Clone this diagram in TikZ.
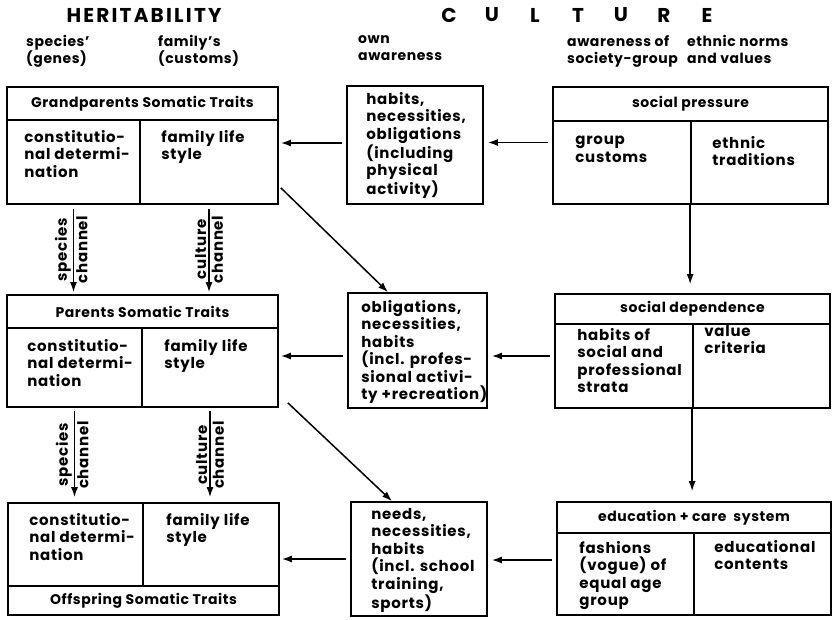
\documentclass[tikz,border=0pt]{standalone}
\usepackage{fontspec}
\setmainfont{Poppins}
\usetikzlibrary{arrows.meta,fit,positioning}

\tikzset{
  cell/.style={draw, line width=1.7pt, inner sep=0pt},
  ttl/.style={inner sep=0pt, font=\fontsize{14}{14}\bfseries\addfontfeature{LetterSpace=4}},
  txt/.style={anchor=north west, align=left, inner sep=0pt, font=\fontsize{15}{17.5}\bfseries\addfontfeature{LetterSpace=5}},
  sub/.style={txt, font=\fontsize{14}{17}\bfseries\addfontfeature{LetterSpace=4}},
  hdr/.style={font=\fontsize{20}{22}\bfseries},
  flow/.style={-{Latex[length=10pt,width=7pt]}, line width=1.5pt},
  chan/.style={rotate=90, inner sep=2pt, font=\fontsize{15}{15}\bfseries\addfontfeature{LetterSpace=5}}
}

\begin{document}
\begin{tikzpicture}[x=1pt,y=-1pt]
  \useasboundingbox (0,0) rectangle (833,619);

  % column heads
  \node[hdr] (herit) at (144,15) {\addfontfeature{LetterSpace=11}HERITABILITY};
  \foreach \l [count=\i] in {C,U,L,T,U,R,E}
    \node[hdr] (cult\i) at (449+43*\i-43,15) {\l};
  \node[sub] (genes) at (26,35) {species'\\(genes)};
  \node[sub] (customs) at (158,35) {family's\\(customs)};
  \node[sub] (own) at (358,35) {own\\awareness};
  \node[sub] (society) at (567,35) {awareness of\\society-group};
  \node[sub] (ethnic) at (687,35) {ethnic norms\\and values};

  % grandparents
  \node[cell,fit={(7,87)(278,120)}] (gpT) {};
  \node[cell,fit={(7,120)(140,204)}] (gpL) {};
  \node[cell,fit={(140,120)(278,204)}] (gpR) {};
  \node[ttl] (gpTt) at (gpT) {Grandparents Somatic Traits};
  \node[txt] (gpLt) at ([shift={(18pt,-11pt)}]gpL.north west) {constitutio-\\nal determi-\\nation};
  \node[txt] (gpRt) at ([shift={(22pt,-11pt)}]gpR.north west) {family life\\style};

  % parents
  \node[cell,fit={(7,295)(278,328)}] (parT) {};
  \node[cell,fit={(7,328)(142,407)}] (parL) {};
  \node[cell,fit={(142,328)(278,407)}] (parR) {};
  \node[ttl] (parTt) at (parT) {Parents Somatic Traits};
  \node[txt] (parLt) at ([shift={(21pt,-12pt)}]parL.north west) {constitutio-\\nal determi-\\nation};
  \node[txt] (parRt) at ([shift={(23pt,-12pt)}]parR.north west) {family life\\style};

  % offspring
  \node[cell,fit={(8,503)(143,586)}] (offL) {};
  \node[cell,fit={(143,503)(279,586)}] (offR) {};
  \node[cell,fit={(8,586)(279,615)}] (offT) {};
  \node[ttl] (offTt) at (offT) {Offspring Somatic Traits};
  \node[txt] (offLt) at ([shift={(22pt,-11pt)}]offL.north west) {constitutio-\\nal determi-\\nation};
  \node[txt] (offRt) at ([shift={(24pt,-11pt)}]offR.north west) {family life\\style};

  % own awareness
  \node[cell,fit={(347,86)(483,204)}] (own1) {};
  \node[txt] (own1t) at ([shift={(20pt,-7pt)}]own1.north west) {habits,\\necessities,\\obligations\\(including\\physical\\activity)};
  \node[cell,fit={(348,293)(487,408)}] (own2) {};
  \node[txt] (own2t) at ([shift={(14pt,-8pt)}]own2.north west) {obligations,\\necessities,\\habits\\(incl. profes-\\sional activi-\\ty +recreation)};
  \node[cell,fit={(351,502)(487,616)}] (own3) {};
  \node[txt] (own3t) at ([shift={(21pt,-7pt)}]own3.north west) {needs,\\necessities,\\habits\\(incl. school\\training,\\sports)};

  % society
  \node[cell,fit={(553,87)(828,121)}] (spT) {};
  \node[cell,fit={(553,121)(691,204)}] (spL) {};
  \node[cell,fit={(691,121)(828,204)}] (spR) {};
  \node[ttl] (spTt) at (spT) {social pressure};
  \node[txt] (spLt) at ([shift={(23pt,-16pt)}]spL.north west) {group\\customs};
  \node[txt] (spRt) at ([shift={(22pt,-16pt)}]spR.north west) {ethnic\\traditions};

  \node[cell,fit={(555,294)(830,324)}] (sdT) {};
  \node[cell,fit={(555,324)(693,408)}] (sdL) {};
  \node[cell,fit={(693,324)(830,408)}] (sdR) {};
  \node[ttl] (sdTt) at (sdT) {social dependence};
  \node[txt] (sdLt) at ([shift={(23pt,-5pt)}]sdL.north west) {habits of\\social and\\professional\\strata};
  \node[txt] (sdRt) at ([shift={(12pt,-2pt)}]sdR.north west) {value\\criteria};

  \node[cell,fit={(557,502)(831,533)}] (edT) {};
  \node[cell,fit={(557,533)(694,615)}] (edL) {};
  \node[cell,fit={(694,533)(831,615)}] (edR) {};
  \node[ttl] (edTt) at (edT) {education + care\ \ system};
  \node[txt] (edLt) at ([shift={(23pt,-9pt)}]edL.north west) {fashions\\(vogue) of\\equal age\\group};
  \node[txt] (edRt) at ([shift={(21pt,-8pt)}]edR.north west) {educational\\contents};

  % channels
  \draw[flow,shorten <=4pt,shorten >=2pt] (gpL.south) -- (gpL.south |- parT.north)
    node[chan,midway,anchor=south] {species} node[chan,midway,anchor=north] {channel};
  \draw[flow,shorten <=4pt,shorten >=2pt] (gpR.south) -- (gpR.south |- parT.north)
    node[chan,midway,anchor=south] {culture} node[chan,midway,anchor=north] {channel};
  \draw[flow,shorten <=3pt,shorten >=5pt] (parL.south) -- (parL.south |- offL.north)
    node[chan,midway,anchor=south] {species} node[chan,midway,anchor=north] {channel};
  \draw[flow,shorten <=3pt,shorten >=5pt] (parR.south) -- (parR.south |- offR.north)
    node[chan,midway,anchor=south] {culture} node[chan,midway,anchor=north] {channel};

  % society -> own awareness -> family
  \draw[flow,shorten <=4pt,shorten >=4pt] ([yshift=20pt]spL.west) -- ([yshift=20pt]spL.west -| own1.east);
  \draw[flow,shorten <=4pt,shorten >=2pt] ([yshift=2pt]own1.west) -- ([yshift=2pt]own1.west -| gpR.east);
  \draw[flow,shorten <=4pt,shorten >=4pt] ([yshift=10pt]sdL.west) -- ([yshift=10pt]sdL.west -| own2.east);
  \draw[flow,shorten <=4pt,shorten >=2pt] ([yshift=-5.5pt]own2.west) -- ([yshift=-5.5pt]own2.west -| parR.east);
  \draw[flow,shorten <=4pt,shorten >=4pt] ([yshift=14pt]edL.west) -- ([yshift=14pt]edL.west -| own3.east);
  \draw[flow,shorten <=4pt,shorten >=2pt] (own3.west) -- (own3.west -| offR.east);

  % society downwards
  \draw[flow,shorten >=9pt] (spR.south west) -- (spR.south west |- sdT.north);
  \draw[flow,shorten >=10pt] (sdR.south west) -- (sdR.south west |- edT.north);

  % family -> next generation's awareness
  \draw[flow] ([shift={(2pt,17pt)}]gpR.south east) -- ([xshift=-29.5pt]own2.north);
  \draw[flow] ([shift={(9pt,5pt)}]parR.south east) -- ([xshift=-27pt]own3.north);
\end{tikzpicture}
\end{document}
